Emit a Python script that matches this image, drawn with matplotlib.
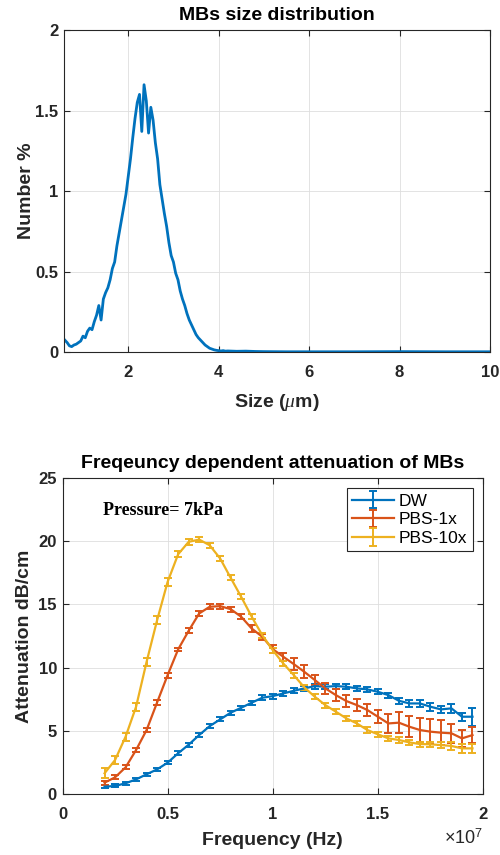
import numpy as np
import matplotlib
matplotlib.use("Agg")
import matplotlib.pyplot as plt
from matplotlib.ticker import FuncFormatter

# MBs size distribution (size in um, number %)
size_um = list(np.round(np.arange(0.6, 4.21, 0.05), 2)) + [4.4, 4.6, 4.8, 5.0, 5.5, 6.0, 7.0, 8.0, 9.0, 10.0]
number_pct = [0.075, 0.06, 0.04, 0.035, 0.045, 0.05, 0.06, 0.07, 0.10, 0.09,
              0.13, 0.15, 0.14, 0.19, 0.23, 0.29, 0.20, 0.33, 0.37, 0.40,
              0.45, 0.52, 0.56, 0.66, 0.74, 0.82, 0.90, 0.98, 1.09, 1.20,
              1.33, 1.45, 1.55, 1.60, 1.37, 1.66, 1.56, 1.36, 1.52, 1.44,
              1.30, 1.20, 1.04, 0.95, 0.86, 0.78, 0.68, 0.60, 0.56, 0.49,
              0.45, 0.38, 0.33, 0.29, 0.24, 0.20, 0.17, 0.14, 0.11, 0.09,
              0.075, 0.06, 0.045, 0.035, 0.025, 0.02, 0.015, 0.012, 0.010, 0.008,
              0.010, 0.007, 0.008,
              0.006, 0.007, 0.005, 0.004, 0.003, 0.003, 0.003, 0.004, 0.003, 0.003]

# attenuation vs frequency
freq_hz = np.arange(2.0, 19.6, 0.5) * 1e6
dw = [0.6, 0.66, 0.87, 1.18, 1.58, 1.97, 2.5, 3.24, 3.92, 4.68,
      5.39, 5.92, 6.45, 6.84, 7.24, 7.63, 7.76, 7.97, 8.18, 8.37,
      8.55, 8.5, 8.55, 8.5, 8.37, 8.29, 8.1, 7.84, 7.39, 7.18,
      7.18, 6.92, 6.71, 6.79, 6.13, 6.13]
dw_err = [0.12, 0.12, 0.12, 0.12, 0.12, 0.12, 0.12, 0.15, 0.15, 0.15,
          0.15, 0.15, 0.15, 0.15, 0.15, 0.2, 0.2, 0.2, 0.2, 0.2,
          0.2, 0.2, 0.2, 0.2, 0.2, 0.2, 0.2, 0.2, 0.25, 0.25,
          0.25, 0.3, 0.3, 0.35, 0.3, 0.7]
pbs1 = [0.92, 1.34, 2.13, 3.5, 5.08, 7.26, 9.42, 11.45, 12.92, 14.29,
        14.82, 14.87, 14.63, 14.03, 13.1, 12.45, 11.47, 10.87, 10.29, 9.68,
        9.03, 8.37, 7.84, 7.37, 7.05, 6.66, 6.13, 5.6, 5.66, 5.34,
        5.08, 4.95, 4.87, 4.82, 4.42, 4.68]
pbs1_err = [0.15, 0.15, 0.15, 0.15, 0.15, 0.2, 0.2, 0.15, 0.2, 0.2,
            0.2, 0.2, 0.2, 0.2, 0.25, 0.25, 0.3, 0.3, 0.45, 0.5,
            0.4, 0.45, 0.5, 0.45, 0.45, 0.45, 0.5, 0.75, 0.85, 0.85,
            0.95, 1.0, 1.0, 0.75, 0.7, 0.65]
pbs10 = [1.66, 2.71, 4.55, 6.92, 10.47, 13.76, 16.79, 18.97, 19.95, 20.13,
         19.68, 18.63, 17.1, 15.6, 14.03, 12.58, 11.39, 10.34, 9.42, 8.45,
         7.71, 7.05, 6.53, 6.0, 5.6, 5.08, 4.74, 4.42, 4.29, 4.1,
         3.97, 3.95, 3.89, 3.82, 3.63, 3.63]
pbs10_err = [0.4, 0.3, 0.3, 0.3, 0.3, 0.3, 0.3, 0.25, 0.25, 0.2,
             0.2, 0.2, 0.2, 0.2, 0.2, 0.2, 0.2, 0.2, 0.2, 0.2,
             0.2, 0.2, 0.2, 0.2, 0.2, 0.2, 0.2, 0.2, 0.2, 0.2,
             0.2, 0.2, 0.25, 0.3, 0.35, 0.35]

plt.rcParams['font.family'] = ['Liberation Sans', 'DejaVu Sans']
plt.rcParams['mathtext.fontset'] = 'custom'
plt.rcParams['mathtext.it'] = 'Liberation Serif:italic'
plt.rcParams['mathtext.rm'] = 'Liberation Sans'

c_blue = '#0072BD'
c_red = '#D95319'
c_yel = '#EDB120'
c_axis = '#262626'

fig = plt.figure(figsize=(5, 8.55), dpi=100)
ax1 = fig.add_axes([0.128, 0.588, 0.852, 0.377])
ax2 = fig.add_axes([0.125, 0.071, 0.841, 0.370])


def style_axes(ax):
    ax.grid(True, color='#dedede', linewidth=0.6)
    ax.set_axisbelow(True)
    ax.tick_params(direction='in', top=True, right=True, length=4,
                   width=0.8, colors=c_axis, labelsize=12)
    ax.tick_params(axis='x', pad=9)
    ax.tick_params(axis='y', pad=4)
    for lab in ax.get_xticklabels() + ax.get_yticklabels():
        lab.set_fontweight('bold')
    for s in ax.spines.values():
        s.set_color(c_axis)
        s.set_linewidth(0.8)


# top: size distribution
ax1.plot(size_um, number_pct, color=c_blue, linewidth=2.0)
ax1.set_xlim(0.58, 10)
ax1.set_ylim(0, 2)
ax1.set_xticks([2, 4, 6, 8, 10])
ax1.set_yticks([0, 0.5, 1, 1.5, 2])
ax1.set_yticklabels(['0', '0.5', '1', '1.5', '2'])
style_axes(ax1)
ax1.set_title('MBs size distribution', fontsize=14, fontweight='bold', pad=7)
ax1.set_xlabel(r'Size ($\mu$m)', fontsize=14, fontweight='bold', color=c_axis, labelpad=9)
ax1.set_ylabel('Number %', fontsize=14, fontweight='bold', color=c_axis, labelpad=0)

# bottom: attenuation
eb = dict(linewidth=1.6, elinewidth=1.4, capsize=3, capthick=1.4)
ax2.errorbar(freq_hz, dw, yerr=dw_err, color=c_blue, label='DW', **eb)
ax2.errorbar(freq_hz, pbs1, yerr=pbs1_err, color=c_red, label='PBS-1x', **eb)
ax2.errorbar(freq_hz, pbs10, yerr=pbs10_err, color=c_yel, label='PBS-10x', **eb)
ax2.set_xlim(0, 2e7)
ax2.set_ylim(0, 25)
ax2.set_xticks([0, 0.5e7, 1e7, 1.5e7, 2e7])
ax2.set_yticks([0, 5, 10, 15, 20, 25])
ax2.xaxis.set_major_formatter(FuncFormatter(lambda v, p: f'{v / 1e7:g}'))
style_axes(ax2)
ax2.text(1.0, -0.14, r'$\times10^{7}$', transform=ax2.transAxes, ha='right',
         va='center', fontsize=13, color=c_axis)
ax2.set_title('Freqeuncy dependent attenuation of MBs', fontsize=14,
              fontweight='bold', pad=7)
ax2.set_xlabel('Frequency (Hz)', fontsize=14, fontweight='bold', color=c_axis, labelpad=7)
ax2.set_ylabel('Attenuation dB/cm', fontsize=14, fontweight='bold', color=c_axis)
ax2.text(0.192e7, 22.06, 'Pressure= 7kPa', fontsize=13, fontweight='bold',
         family='Liberation Serif', va='baseline')
leg = ax2.legend(loc='upper right', fontsize=12.5, fancybox=False, framealpha=1,
                 edgecolor=c_axis, borderaxespad=0.6, handlelength=2.4,
                 labelspacing=0.2, borderpad=0.3, handletextpad=0.3)
leg.get_frame().set_linewidth(0.8)

fig.savefig('out.png', dpi=100)
